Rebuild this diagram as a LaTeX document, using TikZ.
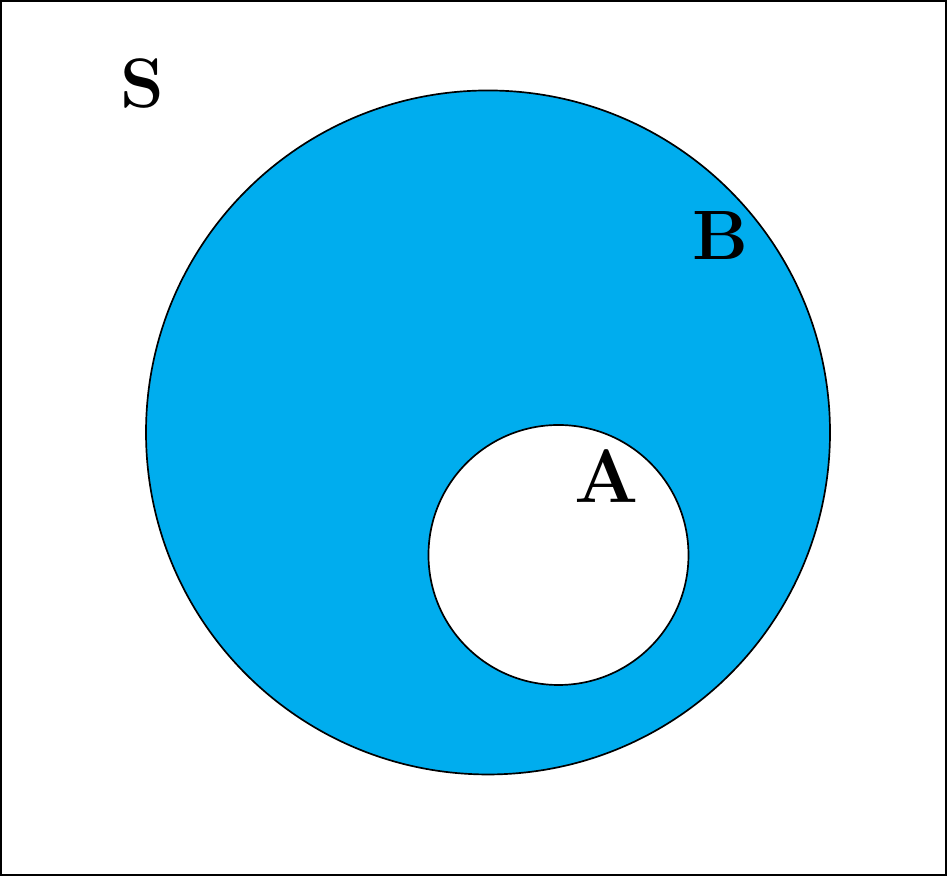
\documentclass[tikz,border=0pt]{standalone}
\usepackage{amsmath,amssymb}
\usepackage{tikz}
\usetikzlibrary{positioning,calc}
\definecolor{SetBlue}{RGB}{0,173,238}

\begin{document}
\begin{tikzpicture}[
    setcircle/.style={
        draw,
        circle,
        inner sep=0pt,
        line width=0.6pt
    },
    setlabel/.style={
        font=\Huge,
        inner sep=0pt
    }
]

\useasboundingbox (0,0) rectangle (11.8375,10.95);

% =========================
% sample space
% =========================
\coordinate (spacesw) at (0,0);
\coordinate (spacene) at (11.8375,10.95);
\draw[line width=1.6pt] (spacesw) rectangle (spacene);
\node[setlabel] (slabel) at (1.775,9.91) {$\mathbf{S}$};

% =========================
% set B and set A
% =========================
\node[setcircle, fill=SetBlue, minimum size=8.55cm] (setB) at (6.1,5.544) {};
\node[setcircle, fill=white, minimum size=3.25cm] (setA) at (6.981,4.0125) {};

\node[setlabel] (blabel) at (9.0,8.0) {$\mathbf{B}$};
\node[setlabel, scale=1.08] (alabel) at (7.58,4.99) {$\mathbf{A}$};

\end{tikzpicture}
\end{document}
